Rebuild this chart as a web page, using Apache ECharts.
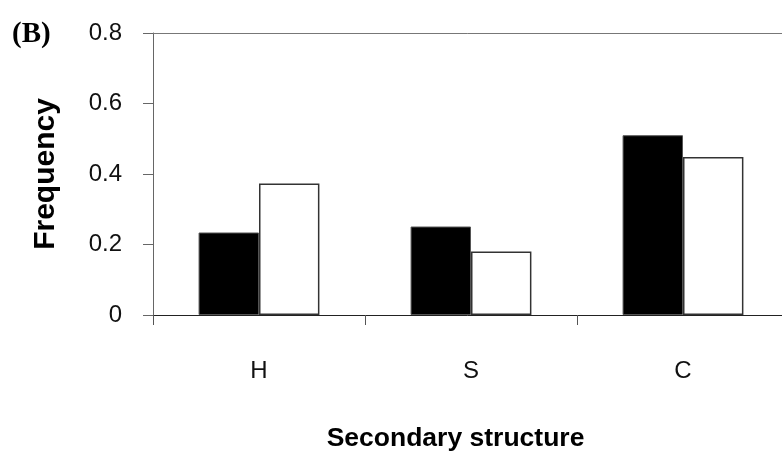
<!DOCTYPE html>
<html>
<head>
<meta charset="utf-8">
<script src="https://cdn.jsdelivr.net/npm/echarts@6/dist/echarts.min.js"></script>
<style>
  html, body { margin: 0; padding: 0; background: #fff; }
  #chart { width: 782px; height: 455px; }
</style>
</head>
<body>
<div id="chart"></div>
<script>
// Secondary structure classes on the category axis
const categories = ['H', 'S', 'C'];
// Frequencies for the two compared groups (filled and open bars)
const filledValues = [0.234, 0.251, 0.510];
const openValues = [0.373, 0.180, 0.448];
// Frequency axis ticks
const yTicks = [0, 0.2, 0.4, 0.6, 0.8];

const chart = echarts.init(document.getElementById('chart'), null, { renderer: 'canvas' });

const sans = 'Liberation Sans, Arial, sans-serif';

chart.setOption({
  animation: false,
  backgroundColor: '#ffffff',
  // the plot frame runs slightly past the right edge of the canvas
  grid: {
    left: 153, top: 33, width: 636, height: 282,
    containLabel: false, outerBoundsMode: 'none'
  },
  graphic: [{
    type: 'text',
    left: 12,
    top: 20,
    style: {
      text: '(B)',
      font: 'bold 29px "Liberation Serif", "Times New Roman", serif',
      fill: '#000'
    }
  }],
  xAxis: [{
    type: 'category',
    data: categories,
    position: 'bottom',
    axisLine: { lineStyle: { color: '#222', width: 1 } },
    axisTick: { show: true, inside: false, length: 10, lineStyle: { color: '#555' } },
    axisLabel: { margin: 44, fontSize: 24, color: '#111', fontFamily: sans },
    name: 'Secondary structure',
    nameLocation: 'middle',
    nameGap: 110,
    nameTextStyle: {
      fontSize: 26.5, fontWeight: 'bold', color: '#000', fontFamily: sans,
      padding: [0, 31, 0, 0]
    }
  }, {
    type: 'category',
    data: categories,
    position: 'top',
    axisLine: { show: true, lineStyle: { color: '#777', width: 1 } },
    axisTick: { show: false },
    axisLabel: { show: false }
  }],
  yAxis: {
    type: 'value',
    min: yTicks[0],
    max: yTicks[yTicks.length - 1],
    interval: 0.2,
    axisLine: { show: true, lineStyle: { color: '#666', width: 1 } },
    axisTick: { show: true, inside: false, length: 10, lineStyle: { color: '#666' } },
    splitLine: { show: false },
    axisLabel: {
      margin: 31, fontSize: 24, color: '#111', fontFamily: sans,
      formatter: v => (v === 0 ? '0' : v.toFixed(1))
    },
    name: 'Frequency',
    nameLocation: 'middle',
    nameGap: 92,
    nameRotate: 90,
    nameTextStyle: { fontSize: 30, fontWeight: 'bold', color: '#000', fontFamily: sans }
  },
  series: [{
    type: 'bar',
    xAxisIndex: 0,
    data: filledValues,
    barGap: '0%',
    barCategoryGap: '43%',
    itemStyle: { color: '#000', borderColor: '#555', borderWidth: 1 }
  }, {
    type: 'bar',
    xAxisIndex: 0,
    data: openValues,
    itemStyle: { color: '#fff', borderColor: '#333', borderWidth: 1.5 }
  }]
});
</script>
</body>
</html>
